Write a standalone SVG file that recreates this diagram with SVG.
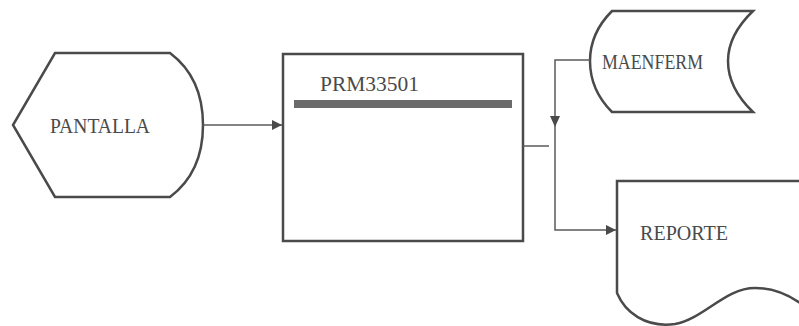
<svg xmlns="http://www.w3.org/2000/svg" width="799" height="326" viewBox="0 0 799 326">
<style>
.shape{fill:none;stroke:#4a4a4a;stroke-width:2.5}
.conn{fill:none;stroke:#5a5a5a;stroke-width:1.5}
.lbl{font-family:"Liberation Serif","DejaVu Serif",serif;font-size:22px;fill:#4a4a4a}
</style>
<defs>
<marker id="arr" viewBox="0 0 10 10" refX="10" refY="5" markerWidth="10" markerHeight="10" markerUnits="userSpaceOnUse" orient="auto">
<path d="M0,0 L10,5 L0,10 Z" fill="#4a4a4a"/>
</marker>
</defs>
<rect width="799" height="326" fill="#ffffff"/>
<g id="pantalla">
<path class="shape" d="M55,53 H170 C190,68 203,92 203,125 C203,158 190,182 170,197 H55 L13,125 Z"/>
<text class="lbl" x="50" y="133" textLength="100" lengthAdjust="spacingAndGlyphs">PANTALLA</text>
</g>
<g id="prm33501">
<rect class="shape" x="283" y="54" width="240" height="187" stroke-width="3"/>
<text class="lbl" x="320" y="91" textLength="99" lengthAdjust="spacingAndGlyphs">PRM33501</text>
<rect x="294" y="100" width="218" height="8" fill="#6a6a6a"/>
</g>
<g id="maenferm">
<path class="shape" d="M612,11 H753 Q728,35 728,61 Q728,88 753,112 H612 Q590,90 590,61 Q590,33 612,11 Z"/>
<text class="lbl" x="602" y="69" textLength="101" lengthAdjust="spacingAndGlyphs">MAENFERM</text>
</g>
<g id="reporte">
<path class="shape" d="M800,181 H617 V293 C625,312 645,328 675,324 C705,318 725,288 755,288 C775,288 790,296 800,303"/>
<text class="lbl" x="640" y="240" textLength="88" lengthAdjust="spacingAndGlyphs">REPORTE</text>
</g>
<g id="connectors">
<line class="conn" x1="203" y1="125" x2="282" y2="125" marker-end="url(#arr)"/>
<line class="conn" x1="523" y1="146" x2="549" y2="146"/>
<path class="conn" d="M590,60 H555 V230 H616" marker-end="url(#arr)"/>
<path d="M550,116 L560,116 L555,127 Z" fill="#4a4a4a"/>
</g>
</svg>
